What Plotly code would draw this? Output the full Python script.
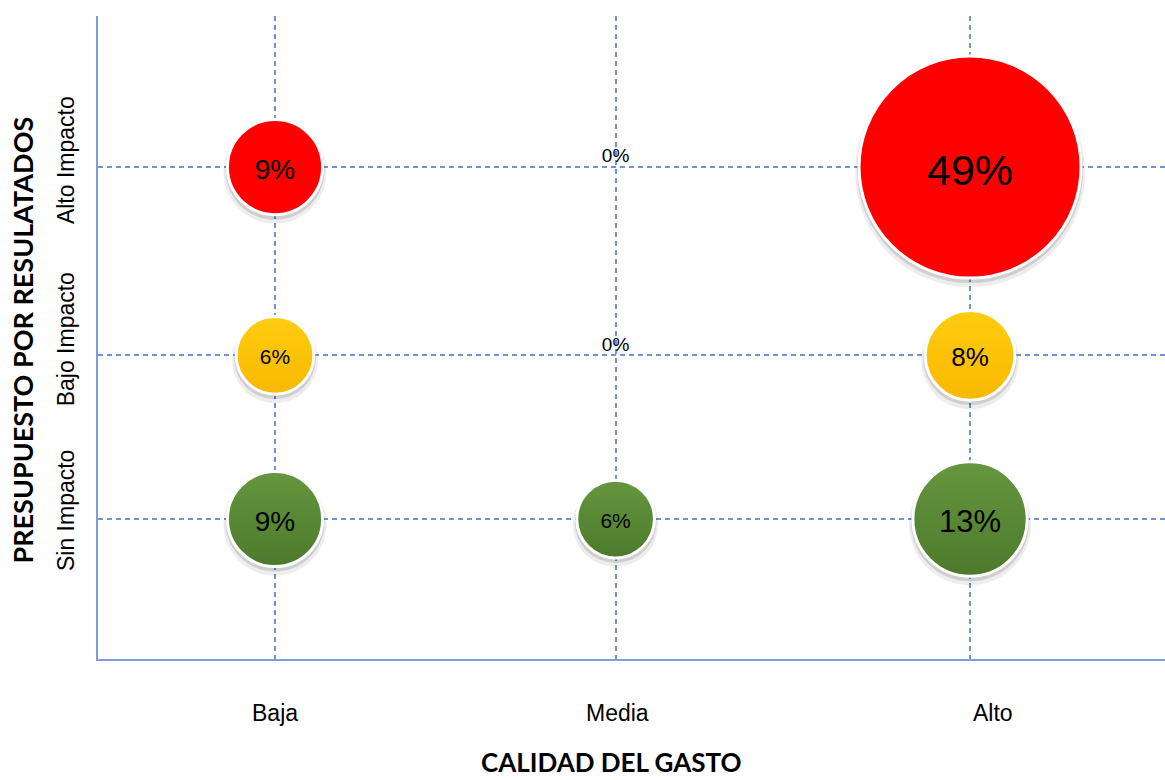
import plotly.graph_objects as go

# ---- data ----
x_labels = ["Baja", "Media", "Alto"]            # CALIDAD DEL GASTO
x_levels = [1.0, 1.98, 3.0]
y_labels = ["Sin Impacto", "Bajo Impacto", "Alto Impacto"]   # PRESUPUESTO POR RESULATADOS
y_levels = [1.0, 2.0, 3.15]

# bubbles (calidad, presupuesto, %)
bub_x = ["Baja", "Alto", "Baja", "Alto", "Baja", "Media", "Alto"]
bub_y = ["Alto Impacto", "Alto Impacto", "Bajo Impacto", "Bajo Impacto",
         "Sin Impacto", "Sin Impacto", "Sin Impacto"]
bub_pct = [9, 49, 6, 8, 9, 6, 13]

# zero-value points
zero_x = ["Media", "Media"]
zero_y = ["Alto Impacto", "Bajo Impacto"]
zero_pct = [0, 0]

# ---- styling ----
row_top = {"Alto Impacto": "#FF0000", "Bajo Impacto": "#FFCC10", "Sin Impacto": "#66963F"}
row_bot = {"Alto Impacto": "#E80000", "Bajo Impacto": "#F8B900", "Sin Impacto": "#4C7A2B"}
grad_type = {"Alto Impacto": "none", "Bajo Impacto": "vertical", "Sin Impacto": "vertical"}
label_font = {6: 21, 8: 26, 9: 28, 13: 31, 49: 43}

xmap = dict(zip(x_labels, x_levels))
ymap = dict(zip(y_labels, y_levels))

X0, X1 = 0.4906, 3.561
Y0, Y1 = 0.145, 4.073
plot_h = 780 - 16 - 121
px_per_y = plot_h / (Y1 - Y0)

max_d = 222
sizeref = 2 * max(bub_pct) / max_d ** 2

bx = [xmap[v] for v in bub_x]
by = [ymap[v] for v in bub_y]

fig = go.Figure()

# soft shadow layers
for extra, alpha, shift in [(8, 0.10, 5), (4, 0.18, 3)]:
    fig.add_trace(go.Scatter(
        x=bx, y=[v - shift / px_per_y for v in by],
        mode="markers",
        marker=dict(
            size=[(((p / max(bub_pct)) ** 0.5) * max_d + extra) for p in bub_pct],
            sizemode="diameter",
            color=f"rgba(0,0,0,{alpha})",
            line=dict(width=0),
        ),
        hoverinfo="skip", showlegend=False,
    ))

fig.add_trace(go.Scatter(
    x=bx, y=by,
    mode="markers",
    marker=dict(
        size=bub_pct,
        sizemode="area",
        sizeref=sizeref,
        color=[row_top[v] for v in bub_y],
        gradient=dict(type=[grad_type[v] for v in bub_y],
                      color=[row_bot[v] for v in bub_y]),
        line=dict(color="white", width=3),
        opacity=1,
    ),
    hoverinfo="skip", showlegend=False,
))

# value labels (sitting slightly low in the bubble, as in the reference)
fig.add_trace(go.Scatter(
    x=bx, y=[v - 0.17 * label_font[p] / px_per_y for v, p in zip(by, bub_pct)],
    mode="text",
    text=[f"{p}%" for p in bub_pct],
    textposition="middle center",
    textfont=dict(family="Liberation Sans, Arial, sans-serif",
                  size=[label_font[p] for p in bub_pct], color="black"),
    hoverinfo="skip", showlegend=False,
))

fig.add_trace(go.Scatter(
    x=[xmap[v] for v in zero_x], y=[ymap[v] for v in zero_y],
    mode="text",
    text=[f"{p}%" for p in zero_pct],
    textposition="top center",
    textfont=dict(family="Liberation Sans, Arial, sans-serif", size=19, color="black"),
    hoverinfo="skip", showlegend=False,
))

grid = "#6F92D8"
axis_line = "#7D9DDB"

fig.update_layout(
    width=1165, height=780,
    margin=dict(l=98, r=0, t=16, b=121),
    paper_bgcolor="white", plot_bgcolor="white",
    xaxis=dict(range=[X0, X1], tickvals=x_levels, showticklabels=False,
               showgrid=True, gridcolor=grid, gridwidth=1.6, griddash="5px,4px",
               zeroline=False, showline=True, linecolor=axis_line, linewidth=2,
               ticks=""),
    yaxis=dict(range=[Y0, Y1], tickvals=y_levels, showticklabels=False,
               showgrid=True, gridcolor=grid, gridwidth=1.6, griddash="5px,4px",
               zeroline=False, showline=True, linecolor=axis_line, linewidth=2,
               ticks=""),
)

# category labels
x_label_shift = [0, 2, 23]
for lab, xv, sh in zip(x_labels, x_levels, x_label_shift):
    fig.add_annotation(x=xv, y=0, xref="x", yref="paper", text=lab, showarrow=False,
                       xshift=sh, yshift=-54, xanchor="center", yanchor="middle",
                       font=dict(family="Liberation Sans, Arial, sans-serif", size=23, color="black"))
y_label_shift = [8, 16, 7]
for lab, yv, sh in zip(y_labels, y_levels, y_label_shift):
    fig.add_annotation(x=0, y=yv, xref="paper", yref="y", text=lab, showarrow=False,
                       xshift=-32, yshift=sh, textangle=-90, xanchor="center", yanchor="middle",
                       font=dict(family="Liberation Sans, Arial, sans-serif", size=23, color="black"))

# axis titles
fig.add_annotation(x=0.5, y=0, xref="paper", yref="paper", text="<b>CALIDAD DEL GASTO</b>",
                   showarrow=False, xshift=-20, yshift=-103, xanchor="center", yanchor="middle",
                   font=dict(family="Lato, Open Sans, sans-serif", size=26, color="black"))
fig.add_annotation(x=0, y=0.5, xref="paper", yref="paper", text="<b>PRESUPUESTO POR RESULATADOS</b>",
                   showarrow=False, xshift=-76, yshift=-3, textangle=-90, xanchor="center", yanchor="middle",
                   font=dict(family="Lato, Open Sans, sans-serif", size=27, color="black"))

fig.write_html("out.html")
